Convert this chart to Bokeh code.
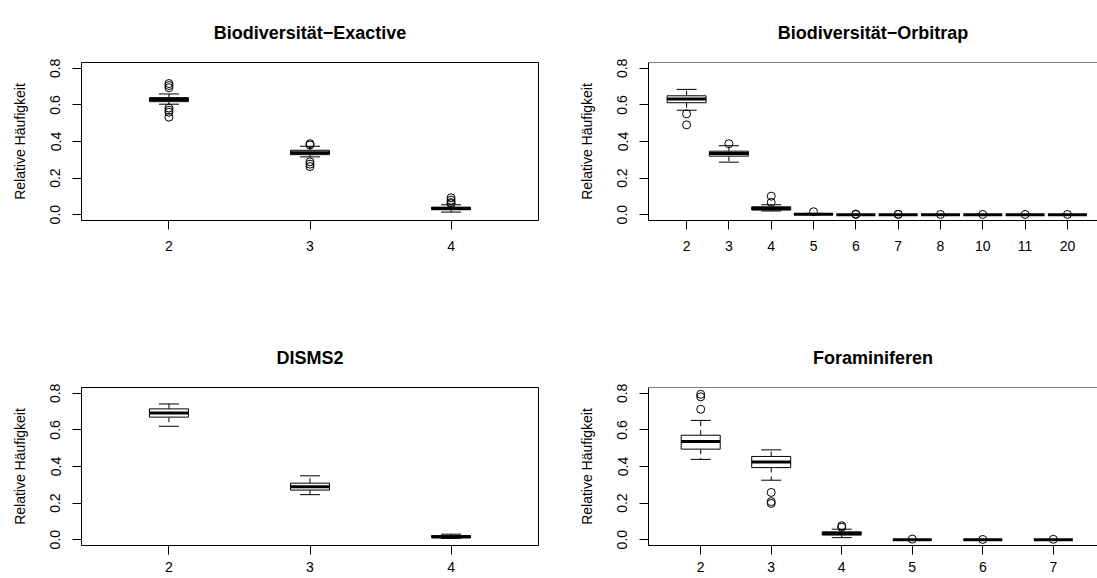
import numpy as np
from bokeh.plotting import figure
from bokeh.layouts import gridplot
from bokeh.models import Range1d, FixedTicker, NumeralTickFormatter, Span
from bokeh.embed import file_html
from bokeh.resources import INLINE

# ---------------- data ----------------
exactive_title = "Biodiversität\u2212Exactive"
exactive_groups = ["2", "3", "4"]
exactive_lower = [0.604, 0.316, 0.014]
exactive_q1 = [0.618, 0.328, 0.027]
exactive_median = [0.629, 0.339, 0.033]
exactive_q3 = [0.640, 0.352, 0.041]
exactive_upper = [0.660, 0.374, 0.054]
exactive_outliers = [[0.717, 0.706, 0.694, 0.583, 0.571, 0.560, 0.533],
                     [0.388, 0.381, 0.289, 0.276, 0.263],
                     [0.092, 0.079, 0.066, 0.060]]

orbitrap_title = "Biodiversität\u2212Orbitrap"
orbitrap_groups = ["2", "3", "4", "5", "6", "7", "8", "10", "11", "20"]
orbitrap_lower = [0.571, 0.287, 0.020, 0.000, 0, 0, 0, 0, 0, 0]
orbitrap_q1 = [0.612, 0.320, 0.025, 0.000, 0, 0, 0, 0, 0, 0]
orbitrap_median = [0.632, 0.334, 0.034, 0.002, 0, 0, 0, 0, 0, 0]
orbitrap_q3 = [0.650, 0.347, 0.043, 0.004, 0, 0, 0, 0, 0, 0]
orbitrap_upper = [0.685, 0.377, 0.054, 0.007, 0, 0, 0, 0, 0, 0]
orbitrap_outliers = [[0.551, 0.491], [0.388], [0.101, 0.067], [0.016],
                     [0.003, 0.001], [0.002, 0.001], [0.001], [0.001],
                     [0.001], [0.001]]

disms2_title = "DISMS2"
disms2_groups = ["2", "3", "4"]
disms2_lower = [0.620, 0.246, 0.007]
disms2_q1 = [0.670, 0.271, 0.010]
disms2_median = [0.692, 0.289, 0.016]
disms2_q3 = [0.715, 0.309, 0.022]
disms2_upper = [0.742, 0.349, 0.030]
disms2_outliers = [[], [], []]

foram_title = "Foraminiferen"
foram_groups = ["2", "3", "4", "5", "6", "7"]
foram_lower = [0.439, 0.325, 0.011, 0, 0, 0]
foram_q1 = [0.495, 0.394, 0.025, 0, 0, 0]
foram_median = [0.537, 0.424, 0.034, 0, 0, 0]
foram_q3 = [0.571, 0.455, 0.043, 0, 0, 0]
foram_upper = [0.652, 0.491, 0.057, 0, 0, 0]
foram_outliers = [[0.795, 0.781, 0.713], [0.258, 0.208, 0.198],
                  [0.076, 0.068], [0.003], [0.001], [0.002]]

y_label = "Relative Häufigkeit"
y_ticks = [0.0, 0.2, 0.4, 0.6, 0.8]

# ---------------- styling / layout ----------------
FONT = "Liberation Sans"
FULL_FRAME_W = 457      # width of a whole R plot region in px
BOX_W = 39              # box width in px
CAP_W = 20              # staple width in px


def make_panel(title, groups, lower, q1, med, q3, upper, outliers,
               width, height, b_left, b_right, b_top, b_bottom,
               xlabel_standoff, cropped):
    n = len(groups)
    pos = np.arange(1, n + 1)
    x_start = 0.5 - 0.04 * n
    frame_w = width - b_left - b_right
    x_end = x_start + 1.08 * n * frame_w / FULL_FRAME_W

    p = figure(width=width, height=height,
               x_range=Range1d(x_start, x_end),
               y_range=Range1d(-0.032, 0.832),
               output_backend="svg", toolbar_location=None,
               min_border_left=b_left, min_border_right=b_right,
               min_border_top=b_top, min_border_bottom=b_bottom,
               background_fill_color="white", border_fill_color="white")
    p.grid.visible = False

    p.title.text = title
    p.title.align = "center"
    p.title.text_font = FONT
    p.title.text_font_size = "18px"
    p.title.text_font_style = "bold"
    p.title.text_color = "black"
    p.title.standoff = 40

    if cropped:
        p.outline_line_color = None
        axis_line = "black"
        p.add_layout(Span(location=0.832, dimension="width",
                          line_color="black", line_width=1))
    else:
        p.outline_line_color = "black"
        p.outline_line_width = 1
        axis_line = None

    # x axis
    xa = p.below[0]
    xa.ticker = FixedTicker(ticks=list(pos))
    xa.major_label_overrides = {int(k): g for k, g in zip(pos, groups)}
    xa.minor_tick_line_color = None
    xa.major_tick_out = 9
    xa.major_tick_in = 0
    xa.major_tick_line_color = "black"
    xa.axis_line_color = axis_line
    xa.major_label_standoff = xlabel_standoff
    xa.major_label_text_font = FONT
    xa.major_label_text_font_size = "14px"
    xa.major_label_text_color = "black"

    # y axis
    ya = p.left[0]
    ya.ticker = FixedTicker(ticks=y_ticks)
    ya.formatter = NumeralTickFormatter(format="0.0")
    ya.minor_tick_line_color = None
    ya.major_tick_out = 9
    ya.major_tick_in = 0
    ya.major_tick_line_color = "black"
    ya.axis_line_color = axis_line
    ya.major_label_orientation = "vertical"
    ya.major_label_standoff = 12
    ya.major_label_text_font = FONT
    ya.major_label_text_font_size = "14px"
    ya.major_label_text_color = "black"
    ya.axis_label = y_label
    ya.axis_label_text_font = FONT
    ya.axis_label_text_font_size = "14px"
    ya.axis_label_text_font_style = "normal"
    ya.axis_label_text_color = "black"
    ya.axis_label_standoff = 20

    q1a = np.asarray(q1, dtype=float)
    q3a = np.asarray(q3, dtype=float)

    # whiskers (dashed)
    p.segment(x0=pos, y0=q3, x1=pos, y1=upper, line_color="black",
              line_width=1, line_dash="5 4")
    p.segment(x0=pos, y0=q1, x1=pos, y1=lower, line_color="black",
              line_width=1, line_dash="5 4")
    # staples
    p.scatter(x=np.concatenate([pos, pos]), y=list(upper) + list(lower),
              marker="dash", size=CAP_W, line_color="black", line_width=1)
    # boxes (fixed pixel width)
    p.rect(x=pos, y=(q1a + q3a) / 2, width=BOX_W, width_units="screen",
           height=q3a - q1a, fill_color="white", line_color="black",
           line_width=1)
    # medians
    p.scatter(x=pos, y=med, marker="dash", size=BOX_W,
              line_color="black", line_width=3)
    # outliers
    ox = [pos[i] for i, o in enumerate(outliers) for _ in o]
    oy = [v for o in outliers for v in o]
    if ox:
        p.scatter(x=ox, y=oy, marker="circle", size=8, fill_color=None,
                  line_color="black", line_width=1)
    return p


p1 = make_panel(exactive_title, exactive_groups, exactive_lower, exactive_q1,
                exactive_median, exactive_q3, exactive_upper, exactive_outliers,
                556, 325, 81, 18, 60, 105, 11, False)
p2 = make_panel(orbitrap_title, orbitrap_groups, orbitrap_lower, orbitrap_q1,
                orbitrap_median, orbitrap_q3, orbitrap_upper, orbitrap_outliers,
                541, 325, 92, 0, 60, 105, 11, True)
p3 = make_panel(disms2_title, disms2_groups, disms2_lower, disms2_q1,
                disms2_median, disms2_q3, disms2_upper, disms2_outliers,
                556, 253, 81, 18, 60, 33, 7, False)
p4 = make_panel(foram_title, foram_groups, foram_lower, foram_q1,
                foram_median, foram_q3, foram_upper, foram_outliers,
                541, 253, 92, 0, 60, 33, 7, True)

layout = gridplot([[p1, p2], [p3, p4]], toolbar_location=None)

open("out.html", "w").write(file_html(layout, INLINE))
